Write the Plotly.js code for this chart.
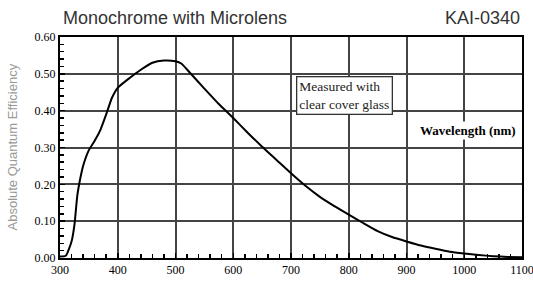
<!DOCTYPE html>
<html>
<head>
<meta charset="utf-8">
<script src="https://cdn.plot.ly/plotly-3.0.1.min.js"></script>
<style>html,body{margin:0;padding:0;background:#fff;}#chart{width:533px;height:285px;}</style>
</head>
<body>
<div id="chart"></div>
<script>
const wavelength = [300,310,320,325,330,335,340,350,360,370,380,390,400,420,440,460,480,500,510,525,550,575,600,625,650,675,700,725,750,775,800,825,850,875,900,925,950,975,1000,1025,1050,1075,1100];
const qe = [0.004,0.006,0.045,0.09,0.17,0.215,0.25,0.293,0.318,0.348,0.39,0.435,0.462,0.488,0.511,0.530,0.536,0.534,0.528,0.503,0.46,0.418,0.38,0.34,0.302,0.266,0.23,0.196,0.166,0.141,0.118,0.095,0.073,0.057,0.045,0.034,0.025,0.017,0.012,0.008,0.005,0.003,0.002];
const xTicks = [300,400,500,600,700,800,900,1000,1100];
const yTicks = [0,0.1,0.2,0.3,0.4,0.5,0.6];
const titleText = "Monochrome with Microlens";
const partText = "KAI-0340";
const yTitle = "Absolute Quantum Efficiency";
const xTitle = "Wavelength (nm)";
const noteText = "Measured with<br>clear cover glass";

const serif = "'Liberation Serif', 'Times New Roman', serif";
const sans = "'Liberation Sans', Arial, sans-serif";

const trace = {
  x: wavelength, y: qe, type: 'scatter', mode: 'lines',
  line: {color: '#000', width: 2, shape: 'spline', smoothing: 0.5},
  hoverinfo: 'skip'
};

const xStep = xTicks[1] - xTicks[0];
const yStep = yTicks[1] - yTicks[0];

const layout = {
  width: 533, height: 285,
  margin: {l: 60, r: 11, t: 37, b: 27},
  paper_bgcolor: '#fff', plot_bgcolor: '#fff',
  showlegend: false,
  xaxis: {
    range: [xTicks[0], xTicks[xTicks.length - 1]],
    tickmode: 'linear', tick0: xTicks[0], dtick: xStep,
    showgrid: true, gridcolor: '#444', gridwidth: 2,
    showline: true, linecolor: '#000', linewidth: 2, mirror: true,
    ticks: 'inside', ticklen: 5, tickcolor: '#000', tickwidth: 1.5,
    minor: {dtick: xStep / 5, ticks: 'inside', ticklen: 4, tickcolor: '#000', tickwidth: 1.5, showgrid: false},
    tickfont: {family: serif, size: 12, color: '#000'},
    ticklabeloverflow: 'allow',
    zeroline: false, fixedrange: true
  },
  yaxis: {
    range: [yTicks[0], yTicks[yTicks.length - 1]],
    tickmode: 'linear', tick0: 0, dtick: yStep, tickformat: '.2f',
    showgrid: true, gridcolor: '#444', gridwidth: 2,
    showline: true, linecolor: '#000', linewidth: 2, mirror: true,
    ticks: 'inside', ticklen: 5, tickcolor: '#000', tickwidth: 1.5,
    minor: {dtick: yStep / 5, ticks: 'inside', ticklen: 4, tickcolor: '#000', tickwidth: 1.5, showgrid: false},
    tickfont: {family: serif, size: 12, color: '#000'},
    ticklabeloverflow: 'allow',
    zeroline: false, fixedrange: true
  },
  annotations: [
    {text: titleText, xref: 'paper', yref: 'paper', x: 0, y: 1, xanchor: 'left', yanchor: 'bottom', yshift: 7, xshift: 1,
     showarrow: false, font: {family: sans, size: 18, color: '#333'}},
    {text: partText, xref: 'paper', yref: 'paper', x: 1, y: 1, xanchor: 'right', yanchor: 'bottom', yshift: 7,
     showarrow: false, font: {family: sans, size: 18, color: '#333'}},
    {text: yTitle, xref: 'paper', yref: 'paper', x: 0, y: 0.5, xanchor: 'center', yanchor: 'middle', xshift: -48, textangle: -90,
     showarrow: false, font: {family: sans, size: 13, color: '#999'}},
    {text: '<b>' + xTitle + '</b>', xref: 'x', yref: 'y', x: 1006, y: 0.345, xanchor: 'center', yanchor: 'middle',
     showarrow: false, bgcolor: '#fff', font: {family: serif, size: 13, color: '#000'}},
    {text: noteText, xref: 'x', yref: 'y', x: 709, y: 0.442, xanchor: 'left', yanchor: 'middle', align: 'left',
     showarrow: false, bgcolor: '#fff', bordercolor: '#333', borderwidth: 1.3, borderpad: 2,
     font: {family: serif, size: 13.5, color: '#222'}}
  ]
};

Plotly.newPlot('chart', [trace], layout, {staticPlot: true, displayModeBar: false});
</script>
</body>
</html>
